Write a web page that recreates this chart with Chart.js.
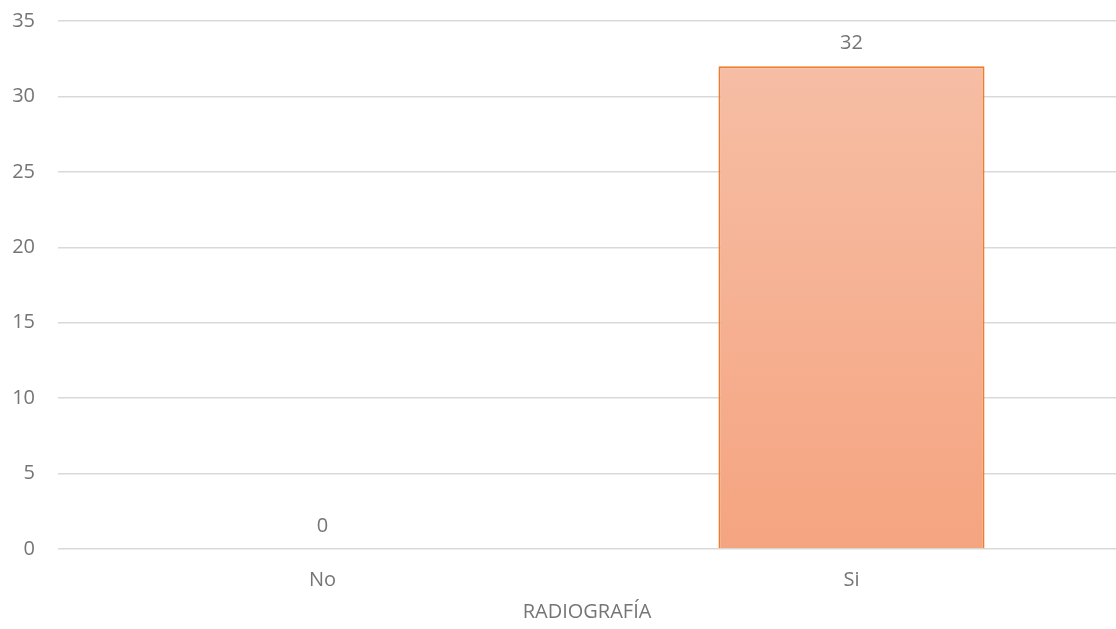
<!DOCTYPE html>
<html>
<head>
<meta charset="utf-8">
<script src="https://cdn.jsdelivr.net/npm/chart.js@4/dist/chart.umd.min.js"></script>
<style>
  html, body { margin: 0; padding: 0; background: #fff; }
  #wrap { width: 1116px; height: 629px; }
</style>
</head>
<body>
<div id="wrap"><canvas id="c" width="1116" height="629"></canvas></div>
<script>
const categories = ['No', 'Si'];
const counts = [0, 32];
const yTicks = [0, 5, 10, 15, 20, 25, 30, 35];
const axisTitle = 'RADIOGRAFÍA';

const FONT = "'Open Sans', 'Liberation Sans', sans-serif";
const TEXT = '#757575';
const SIZE = 20;

// value labels drawn above each bar
const valueLabels = {
  id: 'valueLabels',
  afterDatasetsDraw(chart) {
    const ctx = chart.ctx;
    const meta = chart.getDatasetMeta(0);
    ctx.save();
    ctx.fillStyle = TEXT;
    ctx.font = SIZE + 'px ' + FONT;
    ctx.textAlign = 'center';
    ctx.textBaseline = 'middle';
    meta.data.forEach((bar, i) => {
      ctx.fillText(String(counts[i]), bar.x, bar.y - 23);
    });
    ctx.restore();
  }
};

const ctx = document.getElementById('c').getContext('2d');
new Chart(ctx, {
  type: 'bar',
  data: {
    labels: categories,
    datasets: [{
      data: counts,
      backgroundColor(context) {
        const area = context.chart.chartArea;
        if (!area) return '#F5AE8D';
        const g = context.chart.ctx.createLinearGradient(0, area.top, 0, area.bottom);
        g.addColorStop(0, '#F6C0A8');
        g.addColorStop(1, '#F5A480');
        return g;
      },
      borderColor: '#ED7D31',
      borderWidth: 2,
      borderSkipped: 'bottom',
      categoryPercentage: 1,
      barPercentage: 0.503
    }]
  },
  plugins: [valueLabels],
  options: {
    responsive: false,
    animation: false,
    layout: { padding: { left: 12, right: 0, top: 21, bottom: 0 } },
    plugins: {
      legend: { display: false },
      tooltip: { enabled: false }
    },
    scales: {
      x: {
        grid: { display: false, drawTicks: false },
        border: { display: false },
        ticks: { color: TEXT, font: { family: FONT, size: SIZE }, padding: 19 },
        title: {
          display: true,
          text: axisTitle,
          color: TEXT,
          font: { family: FONT, size: SIZE },
          padding: { top: 6, bottom: 5 }
        },
        afterFit(scale) {
          scale.height = 80;
          scale.paddingLeft = 0;
          scale.paddingRight = 0;
        }
      },
      y: {
        min: 0,
        max: 35,
        afterBuildTicks(scale) { scale.ticks = yTicks.map(v => ({ value: v })); },
        grid: { color: '#D9D9D9', lineWidth: 1.5, drawTicks: false },
        border: { display: false },
        ticks: { color: TEXT, font: { family: FONT, size: SIZE }, padding: 23 },
        afterFit(scale) {
          scale.width = 46;
          scale.paddingTop = 0;
          scale.paddingBottom = 0;
        }
      }
    }
  }
});
</script>
</body>
</html>
